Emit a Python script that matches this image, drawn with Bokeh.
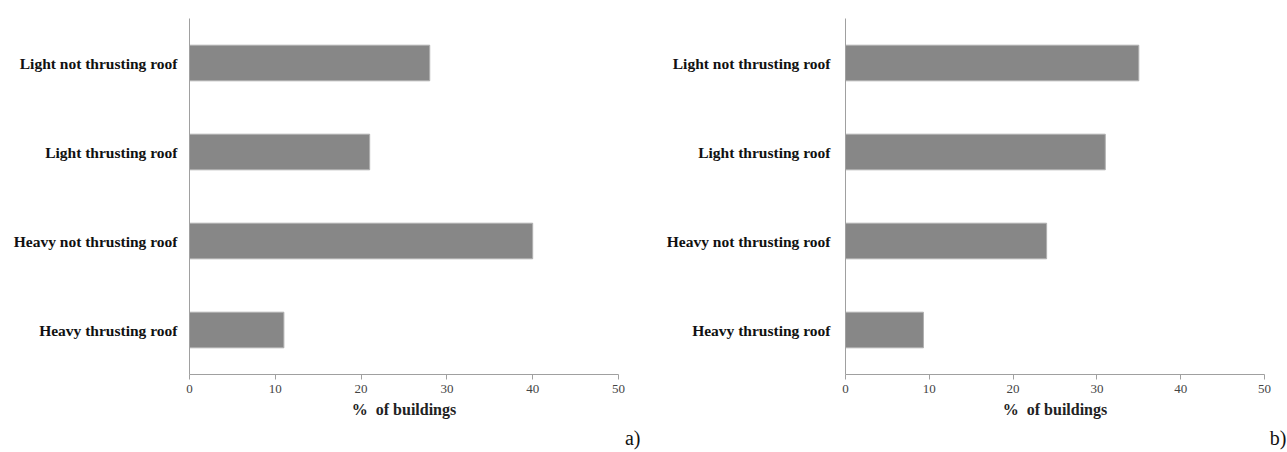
from bokeh.plotting import figure
from bokeh.layouts import row
from bokeh.models import FactorRange, Range1d, Title, FixedTicker
from bokeh.embed import file_html
from bokeh.resources import INLINE

categories = ["Heavy thrusting roof", "Heavy not thrusting roof",
              "Light thrusting roof", "Light not thrusting roof"]
values_a = [11, 40, 21, 28]
values_b = [9.3, 24, 31, 35]
x_ticks = [0, 10, 20, 30, 40, 50]
x_title = "% \u00a0of buildings"

FONT = "Liberation Serif"
BAR = "#878787"
AXIS = "#a0a0a0"


def make(values, tag, width, left, right, top, standoff):
    p = figure(width=width, height=452, output_backend="svg", toolbar_location=None,
               y_range=FactorRange(*categories, range_padding=0),
               x_range=Range1d(0, 50),
               min_border_left=left, min_border_right=right,
               min_border_top=top, min_border_bottom=0)
    p.hbar(y=categories, right=values, left=0, height=0.4,
           fill_color=BAR, line_color="#b0b0b0", line_width=1)
    p.xgrid.visible = False
    p.ygrid.visible = False
    p.outline_line_color = None

    xa = p.xaxis[0]
    xa.ticker = FixedTicker(ticks=x_ticks)
    xa.minor_tick_line_color = None
    xa.major_tick_out = 5
    xa.major_tick_in = 0
    xa.axis_line_color = AXIS
    xa.major_tick_line_color = AXIS
    xa.major_label_text_font = FONT
    xa.major_label_text_font_size = "13px"
    xa.major_label_text_color = "#444444"
    xa.major_label_standoff = 5
    xa.axis_label = x_title
    xa.axis_label_text_font = FONT
    xa.axis_label_text_font_style = "bold"
    xa.axis_label_text_font_size = "16px"
    xa.axis_label_text_color = "#222222"
    xa.axis_label_standoff = 5

    ya = p.yaxis[0]
    ya.axis_line_color = AXIS
    ya.major_tick_line_color = None
    ya.minor_tick_line_color = None
    ya.major_label_text_font = FONT
    ya.major_label_text_font_style = "bold"
    ya.major_label_text_font_size = "15.5px"
    ya.major_label_text_color = "#111111"
    ya.major_label_standoff = standoff

    p.add_layout(Title(text=tag, align="right", offset=-22, standoff=8,
                       text_font=FONT, text_font_size="20px",
                       text_font_style="normal", text_color="#111111"), "below")
    return p


p1 = make(values_a, "a)", 643, 189, 25, 13, 6)
p2 = make(values_b, "b)", 644, 202, 23, 18, 9)
layout = row(p1, p2)

open("out.html", "w").write(file_html(layout, INLINE))
